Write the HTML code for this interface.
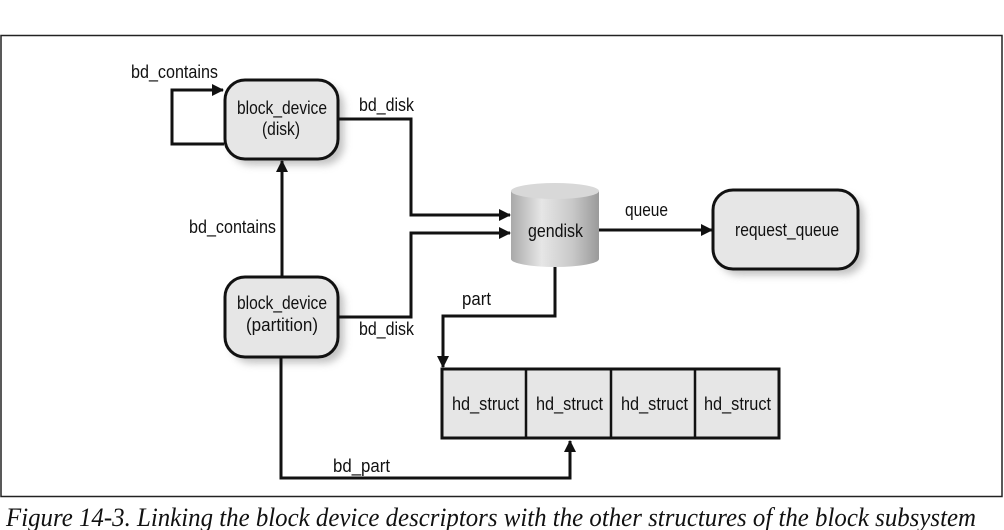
<!DOCTYPE html>
<html><head><meta charset="utf-8"><style>
html,body{margin:0;padding:0;background:#fff;width:1004px;height:530px;overflow:hidden}
svg text{font-family:"Liberation Sans Narrow","Liberation Sans",sans-serif;font-size:18px;fill:#111}
</style></head><body>
<svg width="1004" height="530" viewBox="0 0 1004 530" xmlns="http://www.w3.org/2000/svg">
<defs>
<marker id="a" markerWidth="12" markerHeight="12" refX="11" refY="6" orient="auto" markerUnits="userSpaceOnUse">
<path d="M0,0 L12,6 L0,12 z" fill="#111"/></marker>
<linearGradient id="cyl" x1="0" x2="1" y1="0" y2="0">
<stop offset="0" stop-color="#a9a9a9"/><stop offset="0.35" stop-color="#e6e6e6"/><stop offset="0.7" stop-color="#c8c8c8"/><stop offset="1" stop-color="#9a9a9a"/></linearGradient>
<filter id="sh" x="-20%" y="-20%" width="150%" height="150%"><feGaussianBlur stdDeviation="4"/></filter>
</defs>
<rect x="1" y="35.5" width="1001" height="461" fill="none" stroke="#222" stroke-width="1.5"/>
<g fill="#999" opacity="0.6" filter="url(#sh)">
<rect x="231" y="86" width="113" height="79" rx="20"/>
<rect x="231" y="283" width="113" height="80" rx="20"/>
<rect x="719" y="196" width="145" height="79" rx="20"/>
</g>
<rect x="225" y="80" width="113" height="79" rx="20" fill="#e6e6e6" stroke="#111" stroke-width="3"/>
<rect x="225" y="277" width="113" height="80" rx="20" fill="#e6e6e6" stroke="#111" stroke-width="3"/>
<rect x="713" y="190" width="145" height="79" rx="20" fill="#e6e6e6" stroke="#111" stroke-width="3"/>
<text x="237" y="114" textLength="90" lengthAdjust="spacingAndGlyphs">block_device</text>
<text x="262" y="135" textLength="38" lengthAdjust="spacingAndGlyphs">(disk)</text>
<text x="237" y="309" textLength="90" lengthAdjust="spacingAndGlyphs">block_device</text>
<text x="246" y="331" textLength="72" lengthAdjust="spacingAndGlyphs">(partition)</text>
<text x="735" y="236" textLength="104" lengthAdjust="spacingAndGlyphs">request_queue</text>
<path d="M511,191 L511,259 A44,8 0 0 0 599,259 L599,191 Z" fill="url(#cyl)"/>
<ellipse cx="555" cy="191" rx="44" ry="8" fill="#d8d8d8"/>
<text x="528" y="237" textLength="55" lengthAdjust="spacingAndGlyphs">gendisk</text>
<rect x="442" y="369" width="337" height="69" fill="#e6e6e6" stroke="#111" stroke-width="3"/>
<line x1="526" y1="369" x2="526" y2="438" stroke="#111" stroke-width="2.5"/>
<line x1="611" y1="369" x2="611" y2="438" stroke="#111" stroke-width="2.5"/>
<line x1="695" y1="369" x2="695" y2="438" stroke="#111" stroke-width="2.5"/>
<text x="452" y="410" textLength="67" lengthAdjust="spacingAndGlyphs">hd_struct</text>
<text x="536" y="410" textLength="67" lengthAdjust="spacingAndGlyphs">hd_struct</text>
<text x="621" y="410" textLength="67" lengthAdjust="spacingAndGlyphs">hd_struct</text>
<text x="704" y="410" textLength="67" lengthAdjust="spacingAndGlyphs">hd_struct</text>
<g fill="none" stroke="#111" stroke-width="3">
<polyline points="224,144 172,144 172,90 223,90" marker-end="url(#a)"/>
<polyline points="338,119 411,119 411,215 510,215" marker-end="url(#a)"/>
<polyline points="338,317 411,317 411,233 510,233" marker-end="url(#a)"/>
<polyline points="282,277 282,161" marker-end="url(#a)"/>
<polyline points="599,230 712,230" marker-end="url(#a)"/>
<polyline points="555,267 555,316 443,316 443,367" marker-end="url(#a)"/>
<polyline points="281,357 281,478 570,478 570,441" marker-end="url(#a)"/>
</g>
<text x="131" y="78" textLength="87" lengthAdjust="spacingAndGlyphs">bd_contains</text>
<text x="359" y="111" textLength="55" lengthAdjust="spacingAndGlyphs">bd_disk</text>
<text x="189" y="233" textLength="87" lengthAdjust="spacingAndGlyphs">bd_contains</text>
<text x="359" y="335" textLength="55" lengthAdjust="spacingAndGlyphs">bd_disk</text>
<text x="625" y="216" textLength="43" lengthAdjust="spacingAndGlyphs">queue</text>
<text x="462" y="305" textLength="29" lengthAdjust="spacingAndGlyphs">part</text>
<text x="333" y="472" textLength="57" lengthAdjust="spacingAndGlyphs">bd_part</text>
<text x="6" y="526" textLength="970" lengthAdjust="spacingAndGlyphs" style="font-family:'Liberation Serif',serif;font-style:italic;font-size:26px">Figure 14-3. Linking the block device descriptors with the other structures of the block subsystem</text>
</svg>
</body></html>
